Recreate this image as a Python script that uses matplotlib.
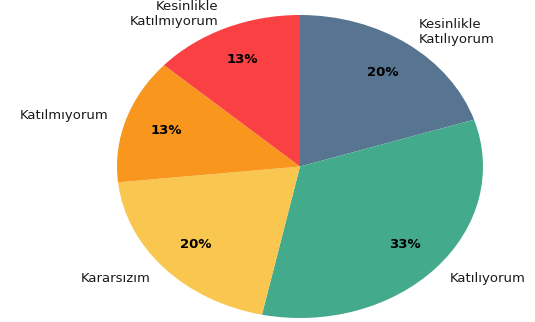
import matplotlib
matplotlib.use("Agg")
import matplotlib.pyplot as plt

# survey answers (15 respondents), ordered clockwise from the top
labels = ["Kesinlikle\nKatılıyorum", "Katılıyorum", "Kararsızım",
          "Katılmıyorum", "Kesinlikle\nKatılmıyorum"]
counts = [3, 5, 3, 2, 2]
colors = ["#577590", "#43AA8B", "#F9C74F", "#F8961E", "#F94144"]

fig = plt.figure(figsize=(5.35, 3.22), dpi=100)
# the pie is drawn a little wider than tall
ax = fig.add_axes([117 / 535, 4 / 322, 366 / 535, 303 / 322])
wedges, texts, autotexts = ax.pie(
    counts, labels=labels, colors=colors, startangle=90, counterclock=False,
    autopct="%1.0f%%", pctdistance=0.77, labeldistance=1.1,
    textprops={"fontsize": 9.5, "color": "#1a1a1a"})
for t in autotexts:
    t.set_fontweight("bold")
    t.set_color("black")
for t in texts:
    t.set_clip_on(False)
ax.set_aspect("auto")
ax.set_xlim(-1, 1)
ax.set_ylim(-1, 1)
ax.axis("off")

fig.savefig("out.png", dpi=100)
